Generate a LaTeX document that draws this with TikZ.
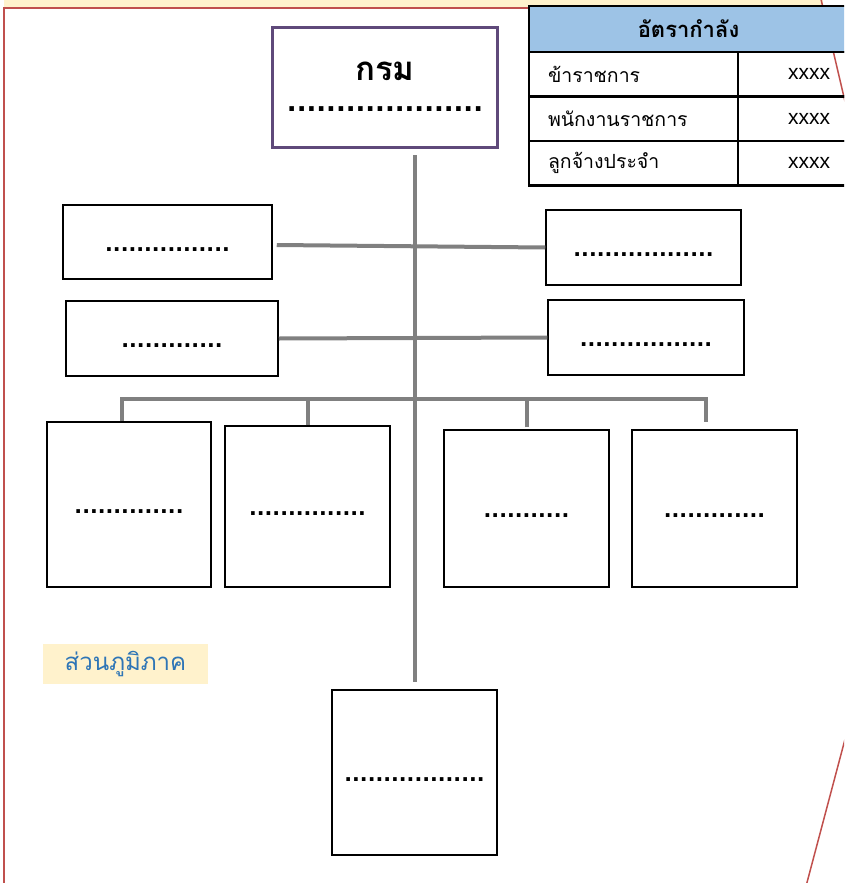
\documentclass[tikz,border=0pt]{standalone}
\usepackage{fontspec}
\setmainfont{Liberation Sans}
\newfontfamily\thaifont[Script=Thai]{Loma}
\newfontfamily\dotfont{DejaVu Sans}
\usetikzlibrary{positioning}
\definecolor{framered}{HTML}{C0504D}
\definecolor{bandyellow}{HTML}{FFF2CC}
\definecolor{deptpurple}{HTML}{5F497A}
\definecolor{linegray}{HTML}{808080}
\definecolor{headblue}{HTML}{9DC3E6}
\definecolor{labelblue}{HTML}{2E75B6}

\begin{document}
\begin{tikzpicture}[
    x=1pt, y=-1pt,
    unit/.style 2 args={draw, line width=1.5pt, minimum width=#1pt, minimum height=#2pt, inner sep=0pt,
        text height=20pt, text depth=2pt, font=\dotfont\bfseries\fontsize{20.5}{20}\selectfont},
    dept/.style={draw=deptpurple, line width=3pt, minimum width=225pt, minimum height=120pt},
    conn/.style={draw=linegray, line width=4pt},
    cellname/.style={draw, line width=2.5pt, outer sep=0pt, minimum height=44.5pt, text width=171pt,
        inner xsep=19pt, align=left, font=\thaifont\fontsize{19.5}{20}\selectfont},
    cellval/.style={draw, line width=2.5pt, outer sep=0pt, minimum height=44.5pt, text width=74pt,
        inner xsep=18pt, align=right, font=\fontsize{21}{21}\selectfont},
]
    \useasboundingbox (0,0) rectangle (844,883);
    \clip (0,0) rectangle (844,883);

    % Page frame
    \fill[bandyellow] (4,-5) rectangle (823,8);
    \draw[framered, line width=1.5pt] (4,890) -- (4,8) -- (823,8);
    \draw[framered, line width=1.5pt] (820,-5) -- (847,110);
    \draw[framered, line width=1.5pt] (848,728) -- (805,890);

    % Department
    \node[dept] (dept) at (385,87.5) {};
    \node[inner sep=0pt, font=\thaifont\bfseries\fontsize{33}{33}\selectfont] (deptname) at (385,71) {กรม};
    \node[inner sep=0pt, font=\dotfont\bfseries\fontsize{25.8}{26}\selectfont] (deptdots) at (385,109) {....................};

    % Staffing table
    \node[draw, line width=2.5pt, outer sep=0pt, fill=headblue, minimum width=319pt, minimum height=46pt,
        font=\thaifont\bfseries\fontsize{22}{22}\selectfont] (hdr) at (688.5,29) {อัตรากำลัง};
    \node[cellname, anchor=north west] (r1name) at (hdr.south west) {ข้าราชการ};
    \node[cellval, anchor=west] (r1val) at (r1name.east) {xxxx};
    \node[cellname, below=0pt of r1name] (r2name) {พนักงานราชการ};
    \node[cellval, anchor=west] (r2val) at (r2name.east) {xxxx};
    \node[cellname, below=0pt of r2name] (r3name) {ลูกจ้างประจำ};
    \node[cellval, anchor=west] (r3val) at (r3name.east) {xxxx};

    % Offices beside the trunk
    \node[unit={209}{74}] (o1l) at (167.5,242) {................};
    \node[unit={195}{75}] (o1r) at (643.5,247.5) {..................};
    \node[unit={212}{75}] (o2l) at (172,338.5) {.............};
    \node[unit={196}{75}] (o2r) at (646,337.5) {.................};

    % Bureaus
    \node[unit={164}{165}] (r3a) at (129,504.5) {..............};
    \node[unit={165}{161}] (r3b) at (307.5,506.5) {...............};
    \node[unit={165}{157}] (r3c) at (526.5,508.5) {...........};
    \node[unit={165}{157}] (r3d) at (714.5,508.5) {.............};

    % Regional part
    \node[fill=bandyellow, minimum width=165pt, minimum height=40pt, text=labelblue,
        font=\thaifont\fontsize{24}{24}\selectfont] (region) at (125.5,664) {ส่วนภูมิภาค};
    \node[unit={165}{165}] (bottom) at (414.5,772.5) {..................};

    % Connectors
    \coordinate (trunktop) at (415,155);
    \draw[conn] (trunktop) -- ([yshift=7pt]bottom.north -| trunktop);
    \draw[conn] ([xshift=4pt,yshift=-3pt]o1l.east) -- (o1r.west);
    \draw[conn] (o2l.east) -- (o2r.west);
    \coordinate (busl) at (122,399);
    \coordinate (busr) at (706,399);
    \draw[conn] (r3a.north -| busl) -- (busl) -- (busr) -- ([yshift=7pt]r3d.north -| busr);
    \draw[conn] (r3b.north) -- (r3b.north |- busl);
    \draw[conn] ([yshift=2pt]r3c.north) -- (r3c.north |- busl);
\end{tikzpicture}
\end{document}
